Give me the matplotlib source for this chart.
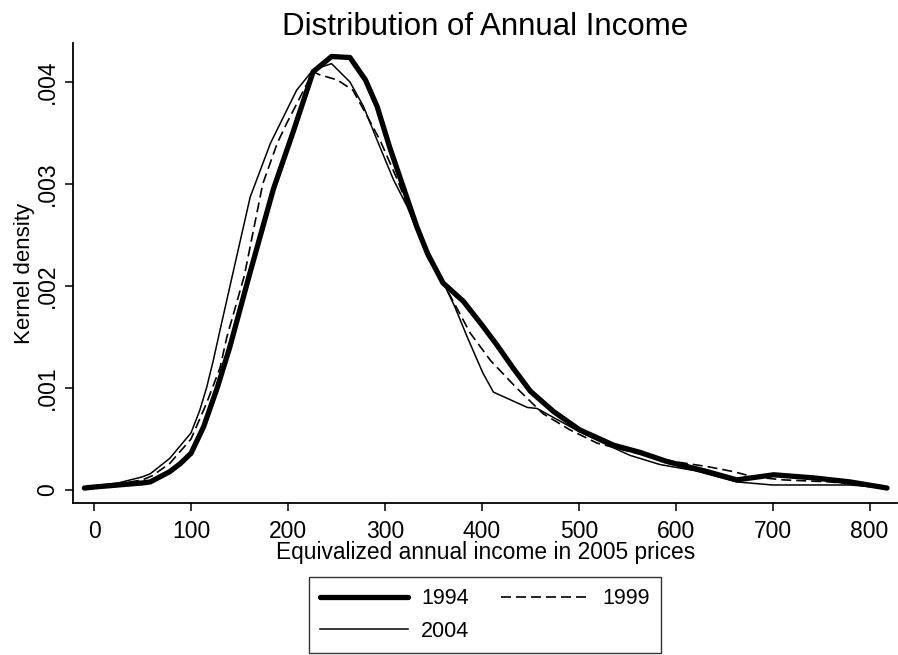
import matplotlib
matplotlib.use("Agg")
import matplotlib.pyplot as plt

plt.rcParams['font.family'] = ['Liberation Sans', 'DejaVu Sans']

# kernel density estimates (income, density)
x1994 = [-10, 0, 25, 50, 58, 78, 89, 100, 113, 127, 140, 160, 185, 205, 226, 245, 264,
         280, 292, 305, 319, 333, 344, 360, 381, 400, 415, 432, 450, 474, 501, 536, 563,
         591, 633, 663, 701, 742, 780, 818]
y1994 = [0.00002, 0.00003, 0.00005, 0.00007, 0.00008, 0.00018, 0.00026, 0.00036, 0.00062,
         0.0010, 0.0014, 0.0021, 0.00295, 0.0035, 0.0041, 0.00425, 0.00424, 0.00402,
         0.00376, 0.00336, 0.00297, 0.00258, 0.00232, 0.00203, 0.00185, 0.00162, 0.00143,
         0.0012, 0.00097, 0.00077, 0.00059, 0.00044, 0.00037, 0.00028, 0.00018, 0.0001,
         0.00015, 0.00012, 0.00008, 0.00002]

x1999 = [-10, 0, 25, 50, 60, 78, 100, 116, 130, 137, 155, 174, 189, 199, 226, 233, 251,
         267, 282, 295, 313, 329, 344, 362, 388, 409, 436, 463, 491, 519, 560, 598, 633,
         660, 680, 711, 760, 818]
y1999 = [0.00002, 0.00003, 0.00006, 0.0001, 0.00014, 0.00026, 0.0005, 0.00085, 0.0012,
         0.0015, 0.0021, 0.0030, 0.0034, 0.0036, 0.0041, 0.00407, 0.00402, 0.00392,
         0.00366, 0.00343, 0.00304, 0.00265, 0.0023, 0.0020, 0.00154, 0.00127, 0.0010,
         0.00075, 0.00059, 0.00046, 0.00036, 0.00028, 0.00023, 0.00018, 0.00013, 0.0001,
         0.00008, 0.00002]

x2004 = [-10, 0, 25, 50, 58, 78, 100, 109, 116, 123, 130, 145, 161, 182, 209, 226, 245,
         264, 278, 292, 309, 323, 344, 362, 372, 385, 401, 412, 447, 457, 480, 501, 530,
         553, 584, 620, 663, 700, 780, 818]
y2004 = [0.00003, 0.00004, 0.00007, 0.00013, 0.00016, 0.00031, 0.00056, 0.00078, 0.0010,
         0.00127, 0.00157, 0.0022, 0.00287, 0.0034, 0.00392, 0.00412, 0.00418, 0.0040,
         0.00376, 0.00343, 0.00304, 0.00278, 0.00228, 0.0020, 0.0018, 0.0015, 0.00115,
         0.00096, 0.00081, 0.0008, 0.00068, 0.00057, 0.00044, 0.00034, 0.00025, 0.00019,
         0.00008, 0.00005, 0.00005, 0.00002]

xticks = [0, 100, 200, 300, 400, 500, 600, 700, 800]
yticks = [0, 0.001, 0.002, 0.003, 0.004]
ylabels = ["0", ".001", ".002", ".003", ".004"]

fig = plt.figure(figsize=(8.98, 6.55), dpi=100)
ax = fig.add_axes([0.0813, 0.232, 0.918, 0.702])

l1, = ax.plot(x1994, y1994, color="black", lw=3.8, solid_capstyle="round",
              solid_joinstyle="round", label="1994")
l2, = ax.plot(x1999, y1999, color="black", lw=1.2, dashes=(6, 3), label="1999")
l3, = ax.plot(x2004, y2004, color="black", lw=1.1, label="2004")

ax.set_xlim(-21.7, 828.7)
ax.set_ylim(-0.000127, 0.00438)
ax.set_xticks(xticks)
ax.set_xticklabels([str(t) for t in xticks], fontsize=16.5)
ax.set_yticks(yticks)
ax.set_yticklabels(ylabels, fontsize=16.5, rotation=90, va="center")

for s in ["top", "right"]:
    ax.spines[s].set_visible(False)
for s in ["left", "bottom"]:
    ax.spines[s].set_linewidth(1.3)
ax.tick_params(direction="out", length=6, width=1.1, pad=4)
ax.tick_params(axis="x", pad=6)

ax.set_xlabel("Equivalized annual income in 2005 prices", fontsize=16.4, labelpad=-1)
ax.set_ylabel("Kernel density", fontsize=16, labelpad=1)
ax.set_title("Distribution of Annual Income", fontsize=22.5, pad=6)

leg = ax.legend([l1, l3, l2], ["1994", "2004", "1999"], ncol=2, fontsize=15.5,
                loc="center", bbox_to_anchor=(0.540, 0.061), bbox_transform=fig.transFigure,
                frameon=True, fancybox=False, edgecolor="black", handlelength=4.1,
                handletextpad=0.6, columnspacing=1.5, labelspacing=0.55, borderpad=0.5)
leg.get_frame().set_linewidth(1.0)

fig.savefig("out.png", dpi=100)
